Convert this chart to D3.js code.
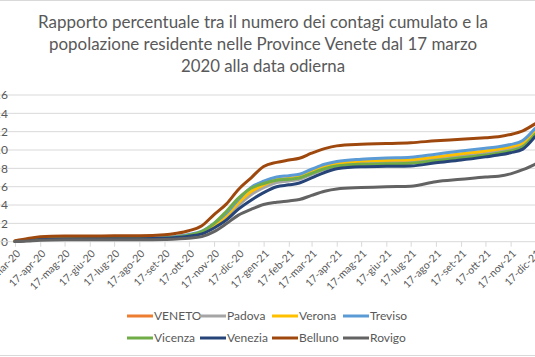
<!DOCTYPE html>
<html><head><meta charset="utf-8">
<script src="https://cdn.jsdelivr.net/npm/d3@7"></script>
<style>
html,body{margin:0;padding:0;background:#fff;overflow:hidden}
svg{display:block}
</style></head>
<body>
<script>
const dates = ["2020-03-17","2020-04-02","2020-04-17","2020-05-17","2020-06-17","2020-07-17","2020-08-17","2020-09-17",
"2020-10-02","2020-10-17","2020-11-02","2020-11-17","2020-12-02","2020-12-17","2021-01-02","2021-01-17",
"2021-02-02","2021-02-17","2021-03-02","2021-03-17","2021-04-02","2021-04-17","2021-05-17","2021-06-17",
"2021-07-17","2021-08-17","2021-09-17","2021-10-17","2021-11-02","2021-11-17","2021-12-02","2021-12-17"];

const veneto  = [0.02,0.17,0.28,0.33,0.34,0.35,0.36,0.41,0.5,0.68,1.0,1.75,2.75,4.1,5.3,6.0,6.55,6.72,6.9,7.45,8.0,8.35,8.6,8.7,8.75,9.05,9.4,9.7,9.9,10.15,10.6,11.9];
const padova  = [0.02,0.17,0.28,0.33,0.34,0.35,0.36,0.4,0.48,0.65,0.95,1.65,2.6,3.95,5.15,5.9,6.45,6.62,6.8,7.35,7.9,8.25,8.5,8.58,8.65,8.95,9.3,9.6,9.8,10.05,10.5,11.8];
const verona  = [0.03,0.22,0.34,0.38,0.39,0.4,0.41,0.46,0.55,0.72,1.05,1.8,2.85,4.25,5.5,6.2,6.75,6.92,7.1,7.65,8.2,8.55,8.8,8.88,8.95,9.25,9.6,9.9,10.1,10.35,10.8,12.1];
const treviso = [0.03,0.2,0.32,0.38,0.4,0.41,0.42,0.48,0.58,0.78,1.15,2.0,3.1,4.6,5.95,6.6,7.05,7.2,7.35,7.9,8.45,8.75,9.0,9.12,9.2,9.55,9.9,10.2,10.35,10.6,11.05,12.35];
const vicenza = [0.02,0.16,0.27,0.32,0.33,0.34,0.35,0.4,0.5,0.7,1.1,2.0,3.3,4.75,5.85,6.35,6.7,6.82,6.95,7.45,7.95,8.25,8.45,8.5,8.55,8.85,9.15,9.45,9.65,9.9,10.35,11.7];
const venezia = [0.02,0.15,0.25,0.3,0.31,0.32,0.33,0.37,0.45,0.6,0.85,1.5,2.35,3.55,4.55,5.35,6.0,6.2,6.4,6.95,7.55,7.95,8.18,8.22,8.26,8.6,8.9,9.25,9.45,9.7,10.1,11.45];
const belluno = [0.1,0.35,0.55,0.62,0.63,0.64,0.65,0.75,0.92,1.2,1.75,2.95,4.1,5.7,7.0,8.2,8.65,8.9,9.1,9.65,10.15,10.45,10.62,10.7,10.8,11.0,11.17,11.35,11.45,11.7,12.1,12.85];
const rovigo  = [0.01,0.08,0.15,0.2,0.21,0.22,0.22,0.25,0.3,0.37,0.55,1.1,1.95,2.9,3.55,4.05,4.3,4.45,4.6,5.05,5.5,5.75,5.9,6.0,6.05,6.55,6.8,7.05,7.15,7.4,7.85,8.45];

const seriesNames = ["VENETO","Padova","Verona","Treviso","Vicenza","Venezia","Belluno","Rovigo"];
const seriesValues = [veneto,padova,verona,treviso,vicenza,venezia,belluno,rovigo];
const seriesColors = ["#ED7D31","#A5A5A5","#FFC000","#5B9BD5","#70AD47","#264478","#9E480E","#636363"];
const yTicks = [0,2,4,6,8,10,12,14,16];
const monthAbbr = ["gen","feb","mar","apr","mag","giu","lug","ago","set","ott","nov","dic"];
const titleLines = ["Rapporto percentuale tra il numero dei contagi cumulato e la",
"popolazione residente nelle Province Venete dal 17 marzo","2020 alla data odierna"];

const W = 535, H = 357;
const parse = d3.timeParse("%Y-%m-%d");
const svg = d3.select("body").append("svg").attr("width", W).attr("height", H);

svg.append("rect").attr("x",-1).attr("y",0.5).attr("width",W+2).attr("height",355)
  .attr("fill","#fff").attr("stroke","#D9D9D9").attr("stroke-width",1);

// title
const titleW = [450, 428, 164];
svg.append("g").selectAll("text").data(titleLines).join("text")
  .attr("x", 263).attr("y", (d,i)=>28 + i*22)
  .attr("text-anchor","middle")
  .attr("font-family","Lato, 'Open Sans', sans-serif")
  .attr("font-size", 18).attr("fill","#595959")
  .attr("textLength",(d,i)=>titleW[i]).attr("lengthAdjust","spacingAndGlyphs")
  .text(d=>d);

const x = d3.scaleTime().domain([parse("2020-03-17"), parse("2021-12-17")]).range([15, 535]);
const y = d3.scaleLinear().domain([0,16]).range([241.7, 95]);

// gridlines
svg.append("g").selectAll("line").data(yTicks.slice(1)).join("line")
  .attr("x1", 0).attr("x2", W).attr("y1", d=>y(d)).attr("y2", d=>y(d))
  .attr("stroke","#D9D9D9").attr("stroke-width",1);

// y labels
svg.append("g").selectAll("text").data(yTicks).join("text")
  .attr("x", 8).attr("y", d=>y(d)).attr("dy","0.35em")
  .attr("text-anchor","end").attr("font-family","Lato, 'Open Sans', sans-serif")
  .attr("font-size", 12).attr("fill","#595959").text(d=>d);

// x axis
const tickDates = d3.timeMonth.range(parse("2020-03-01"), parse("2022-01-01")).map(d=>new Date(d.getFullYear(), d.getMonth(), 17));
const xAxis = d3.axisBottom(x).tickValues(tickDates).tickSize(5)
  .tickFormat(d => "17-" + monthAbbr[d.getMonth()] + "-" + String(d.getFullYear()).slice(2));
const gx = svg.append("g").attr("transform","translate(0,241.7)").call(xAxis);
gx.select(".domain").attr("stroke","#D9D9D9").attr("d","M0,0H" + W);
gx.selectAll(".tick line").attr("stroke","#D9D9D9");
gx.selectAll(".tick text")
  .attr("font-family","Lato, 'Open Sans', sans-serif").attr("font-size",10.5).attr("fill","#595959")
  .attr("text-anchor","end").attr("y",0).attr("dy","0.35em")
  .attr("transform","translate(3,10) rotate(-45)");

// lines
const line = d3.line().x((d,i)=>x(parse(dates[i]))).y(d=>y(d)).curve(d3.curveMonotoneX);
svg.append("g").selectAll("path").data(seriesValues).join("path")
  .attr("d", d=>line(d)).attr("fill","none")
  .attr("stroke",(d,i)=>seriesColors[i]).attr("stroke-width",3)
  .attr("stroke-linejoin","round").attr("stroke-linecap","round");

// legend
const colX = [127, 200, 272, 343], rowY = [316, 338];
const lg = svg.append("g").selectAll("g").data(seriesNames).join("g")
  .attr("transform",(d,i)=>`translate(${colX[i%4]},${rowY[Math.floor(i/4)]})`);
lg.append("line").attr("x1",0).attr("x2",26).attr("y1",0).attr("y2",0)
  .attr("stroke",(d,i)=>seriesColors[i]).attr("stroke-width",3);
lg.append("text").attr("x",27).attr("y",0).attr("dy","0.35em")
  .attr("font-family","Lato, 'Open Sans', sans-serif").attr("font-size",12).attr("fill","#595959")
  .text(d=>d);
</script>
</body></html>
